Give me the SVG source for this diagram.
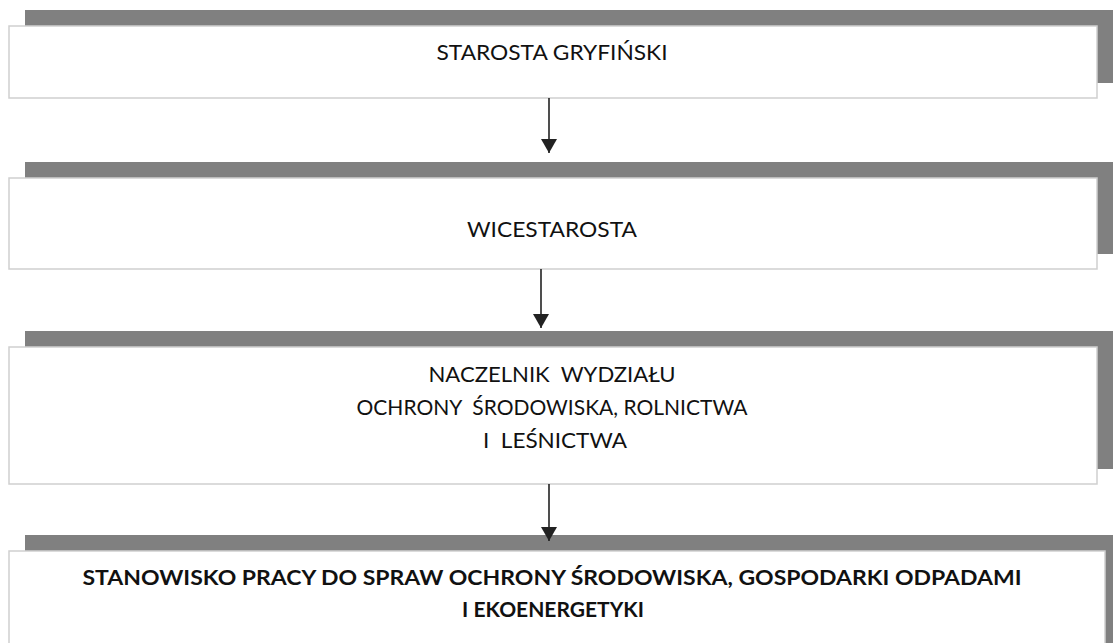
<svg xmlns="http://www.w3.org/2000/svg" width="1116" height="643" viewBox="0 0 1116 643">
<style>
.sh{fill:#808080}
.bx{fill:#ffffff;stroke:#cfcfcf;stroke-width:1.5}
.t{font-family:Lato,"Open Sans","Liberation Sans",sans-serif;font-size:21px;fill:#111;text-anchor:middle;white-space:pre}
.b{font-weight:bold}
.c{stroke:#222;stroke-width:1.6;fill:none}
</style>
<defs>
<marker id="ah" markerWidth="14" markerHeight="16" refX="14" refY="8" orient="auto" markerUnits="userSpaceOnUse" viewBox="0 0 14 16">
<path d="M0,0 L14,8 L0,16 Z" fill="#222"/>
</marker>
</defs>
<g id="node1">
<rect class="sh" x="25" y="10" width="1088" height="73"/>
<rect class="bx" x="9" y="26" width="1088" height="72"/>
<text class="t" x="552" y="60" textLength="231" lengthAdjust="spacingAndGlyphs">STAROSTA GRYFIŃSKI</text>
</g>
<g id="node2">
<rect class="sh" x="25" y="162" width="1088" height="92"/>
<rect class="bx" x="9" y="178" width="1088" height="91"/>
<text class="t" x="552" y="237" textLength="170" lengthAdjust="spacingAndGlyphs">WICESTAROSTA</text>
</g>
<g id="node3">
<rect class="sh" x="25" y="331" width="1088" height="138"/>
<rect class="bx" x="9" y="347" width="1088" height="137"/>
<text class="t" x="552" y="382" textLength="247" lengthAdjust="spacingAndGlyphs" xml:space="preserve">NACZELNIK  WYDZIAŁU</text>
<text class="t" x="552" y="415" textLength="391" lengthAdjust="spacingAndGlyphs" xml:space="preserve">OCHRONY  ŚRODOWISKA, ROLNICTWA</text>
<text class="t" x="555" y="448" textLength="144" lengthAdjust="spacingAndGlyphs" xml:space="preserve">I  LEŚNICTWA</text>
</g>
<g id="node4">
<rect class="sh" x="25" y="535" width="1088" height="120"/>
<rect class="bx" x="9" y="551" width="1096" height="110"/>
<text class="t b" x="552" y="585" textLength="939" lengthAdjust="spacingAndGlyphs">STANOWISKO PRACY DO SPRAW OCHRONY ŚRODOWISKA, GOSPODARKI ODPADAMI</text>
<text class="t b" x="553" y="617">I EKOENERGETYKI</text>
</g>
<g id="connectors">
<line class="c" x1="549" y1="98" x2="549" y2="153" marker-end="url(#ah)"/>
<line class="c" x1="541" y1="269" x2="541" y2="328" marker-end="url(#ah)"/>
<line class="c" x1="549" y1="484" x2="549" y2="541" marker-end="url(#ah)"/>
</g>
</svg>
